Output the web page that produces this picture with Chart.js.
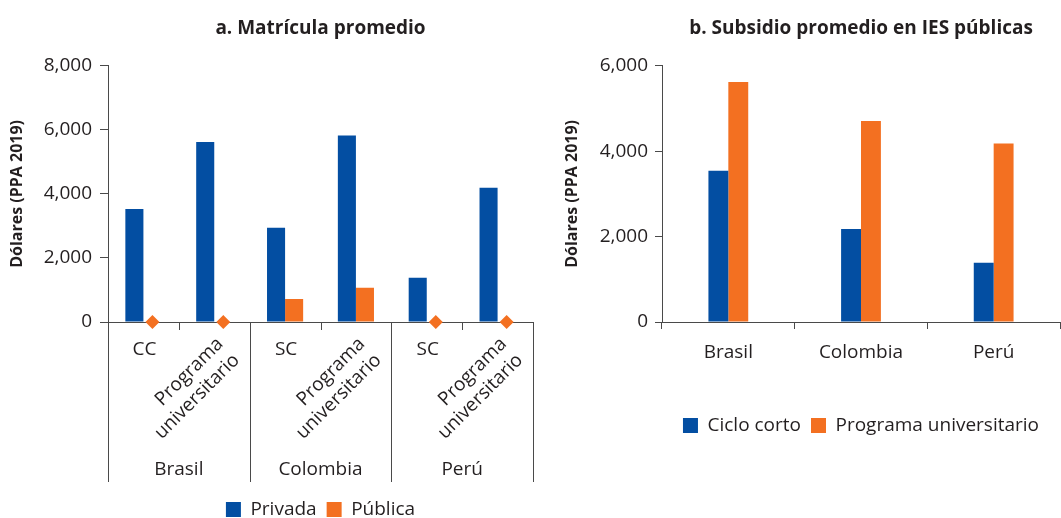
<!DOCTYPE html>
<html>
<head>
<meta charset="utf-8">
<script src="https://cdn.jsdelivr.net/npm/chart.js@4"></script>
<style>
  body { margin: 0; background: #fff; width: 1061px; height: 518px; overflow: hidden; position: relative; }
  .box { position: absolute; top: 0; height: 518px; }
  #left { left: 0; width: 545px; }
  #right { left: 545px; width: 516px; }
</style>
</head>
<body>
<div class="box" id="left"><canvas id="chartA" width="545" height="518"></canvas></div>
<div class="box" id="right"><canvas id="chartB" width="516" height="518"></canvas></div>
<script>
// --- DATA ---
// a. Matrícula promedio
const levelsA = ["CC", "Programa universitario", "SC", "Programa universitario", "SC", "Programa universitario"];
const countriesA = ["Brasil", "Colombia", "Perú"];
const privada = [3530, 5620, 2940, 5820, 1380, 4190];
const publica = [0, 0, 715, 1070, 0, 0];
const ticksA = [0, 2000, 4000, 6000, 8000];

// b. Subsidio promedio en IES públicas
const countriesB = ["Brasil", "Colombia", "Perú"];
const cicloCorto = [3540, 2180, 1390];
const programaUniv = [5620, 4710, 4180];
const ticksB = [0, 2000, 4000, 6000];

// --- STYLE ---
const BLUE = "#034ea2";
const ORANGE = "#f37021";
const TEXT = "#231f20";
const AXIS = "#4a4a4a";
const FONT = "'Open Sans', 'Noto Sans', sans-serif";
const FS = 19;

Chart.defaults.font.family = FONT;
Chart.defaults.color = TEXT;

// center title and legend over the plot area instead of the whole canvas
const centerOnPlot = {
  id: "centerOnPlot",
  afterLayout(chart) {
    const area = chart.chartArea;
    if (chart.legend) {
      chart.legend.left = area.left;
      chart.legend.right = area.right;
    }
    if (chart.titleBlock) {
      chart.titleBlock.left = area.left;
      chart.titleBlock.right = area.right;
    }
  },
};

// diamonds for zero values + two level category axis (left chart)
const groupAxisA = {
  id: "groupAxisA",
  afterDatasetsDraw(chart) {
    const ctx = chart.ctx;
    const meta = chart.getDatasetMeta(1);
    ctx.save();
    ctx.fillStyle = ORANGE;
    meta.data.forEach((bar, i) => {
      if (publica[i] !== 0) return;
      const r = 7;
      ctx.beginPath();
      ctx.moveTo(bar.x, bar.y - r);
      ctx.lineTo(bar.x + r, bar.y);
      ctx.lineTo(bar.x, bar.y + r);
      ctx.lineTo(bar.x - r, bar.y);
      ctx.closePath();
      ctx.fill();
    });
    ctx.restore();
  },
  afterDraw(chart) {
    const ctx = chart.ctx;
    const x = chart.scales.x;
    const catW = x.width / levelsA.length;
    const axisY = x.top;
    ctx.save();
    ctx.strokeStyle = AXIS;
    ctx.lineWidth = 1;

    // group separators and minor ticks
    for (let k = 0; k <= levelsA.length; k++) {
      const px = Math.round(x.left + k * catW) + 0.5;
      ctx.beginPath();
      ctx.moveTo(px, axisY);
      ctx.lineTo(px, k % 2 === 0 ? axisY + 160 : axisY + 8);
      ctx.stroke();
    }

    ctx.fillStyle = TEXT;
    ctx.font = FS + "px " + FONT;
    levelsA.forEach((label, i) => {
      const cx = x.getPixelForValue(i);
      if (label.indexOf(" ") < 0) {
        ctx.textAlign = "center";
        ctx.textBaseline = "middle";
        ctx.fillText(label, cx + 1, axisY + 28);
      } else {
        const lines = label.split(" ");
        ctx.save();
        ctx.translate(cx + 6, axisY + 19);
        ctx.rotate(-Math.PI / 4);
        ctx.textAlign = "right";
        ctx.textBaseline = "middle";
        lines.forEach((ln, j) => ctx.fillText(ln, 0, j * 23));
        ctx.restore();
      }
    });

    ctx.textAlign = "center";
    ctx.textBaseline = "middle";
    countriesA.forEach((c, g) => {
      const gx = x.left + (g * 2 + 1) * catW;
      ctx.fillText(c, gx, axisY + 148);
    });
    ctx.restore();
  },
};

function yTitle(padTop) {
  return {
    display: true,
    text: "Dólares (PPA 2019)",
    color: TEXT,
    font: { size: 16, weight: "bold" },
    padding: { top: padTop, bottom: 0 },
  };
}

function chartTitle(text) {
  return {
    display: true,
    text: text,
    color: TEXT,
    font: { size: 19, weight: "bold" },
    padding: { top: 17, bottom: 26 },
  };
}

function legendOpts() {
  return {
    position: "bottom",
    labels: {
      boxWidth: 15,
      boxHeight: 15,
      padding: 10,
      color: TEXT,
      font: { size: FS },
    },
  };
}

// --- CHART A ---
new Chart(document.getElementById("chartA"), {
  type: "bar",
  data: {
    labels: levelsA.map((l, i) => countriesA[Math.floor(i / 2)] + " " + l),
    datasets: [
      { label: "Privada", data: privada, backgroundColor: BLUE },
      { label: "Pública", data: publica, backgroundColor: ORANGE },
    ],
  },
  options: {
    responsive: false,
    animation: false,
    devicePixelRatio: 1,
    layout: { padding: { left: 0, right: 12, top: 0, bottom: -11 } },
    datasets: { bar: { barPercentage: 1, categoryPercentage: 0.51 } },
    plugins: {
      title: chartTitle("a. Matrícula promedio"),
      legend: legendOpts(),
      tooltip: { enabled: false },
    },
    scales: {
      x: {
        grid: { display: false },
        border: { display: true, color: AXIS },
        ticks: { display: false },
        afterFit: (s) => { s.height = 168; },
      },
      y: {
        min: 0,
        max: 8000,
        afterBuildTicks: (s) => { s.ticks = ticksA.map((v) => ({ value: v })); },
        grid: { drawOnChartArea: false, drawTicks: true, tickLength: 8, color: AXIS },
        border: { color: AXIS },
        ticks: {
          color: TEXT,
          font: { size: FS },
          padding: 8,
          callback: (v) => v.toLocaleString("en-US"),
        },
        title: yTitle(8),
        afterFit: (s) => { s.width = 108; },
      },
    },
  },
  plugins: [centerOnPlot, groupAxisA],
});

// --- CHART B ---
new Chart(document.getElementById("chartB"), {
  type: "bar",
  data: {
    labels: countriesB,
    datasets: [
      { label: "Ciclo corto", data: cicloCorto, backgroundColor: BLUE },
      { label: "Programa universitario", data: programaUniv, backgroundColor: ORANGE },
    ],
  },
  options: {
    responsive: false,
    animation: false,
    devicePixelRatio: 1,
    layout: { padding: { left: 0, right: 1, top: 0, bottom: 73 } },
    datasets: { bar: { barPercentage: 1, categoryPercentage: 0.3 } },
    plugins: {
      title: chartTitle("b. Subsidio promedio en IES públicas"),
      legend: legendOpts(),
      tooltip: { enabled: false },
    },
    scales: {
      x: {
        grid: { drawOnChartArea: false, drawTicks: true, tickLength: 7, color: AXIS, offset: true },
        border: { display: true, color: AXIS },
        ticks: { color: TEXT, font: { size: FS }, padding: 12 },
        afterFit: (s) => { s.height = 84; },
      },
      y: {
        min: 0,
        max: 6000,
        afterBuildTicks: (s) => { s.ticks = ticksB.map((v) => ({ value: v })); },
        grid: { drawOnChartArea: false, drawTicks: true, tickLength: 7, color: AXIS },
        border: { color: AXIS },
        ticks: {
          color: TEXT,
          font: { size: FS },
          padding: 7,
          callback: (v) => v.toLocaleString("en-US"),
        },
        title: yTitle(18),
        afterFit: (s) => { s.width = 117; },
      },
    },
  },
  plugins: [centerOnPlot],
});
</script>
</body>
</html>
